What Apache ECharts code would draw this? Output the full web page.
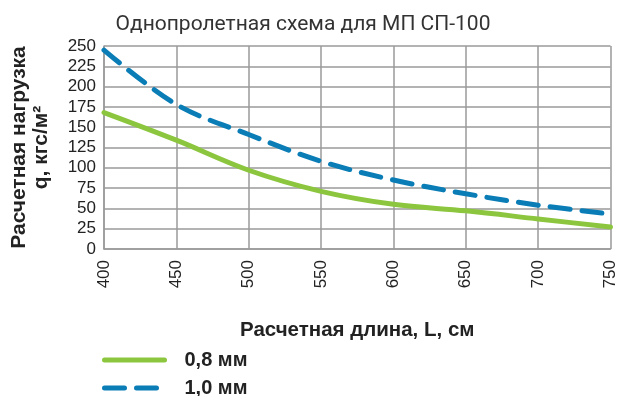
<!DOCTYPE html>
<html>
<head>
<meta charset="utf-8">
<script src="https://cdn.jsdelivr.net/npm/echarts@6/dist/echarts.min.js"></script>
<style>
  html, body { margin: 0; padding: 0; background: #fff; }
  #chart { width: 619px; height: 396px; }
</style>
</head>
<body>
<div id="chart"></div>
<script>
// длины пролета, см
const lengths = [400, 450, 500, 550, 600, 650, 700, 750];
// нагрузка, кгс/м2
const load08 = [168, 134, 97, 71, 55, 47, 37, 27];
const load10 = [245, 178, 141, 108, 85, 68, 54, 43];
const seriesNames = ['0,8 мм', '1,0 мм'];

const chart = echarts.init(document.getElementById('chart'));

const toPoints = (vals) => lengths.map((x, i) => [x, vals[i]]);

// одна легенда на строку
const legendRow = (name, top) => ({
  left: 102,
  top: top,
  padding: 0,
  itemWidth: 60,
  itemHeight: 14,
  itemStyle: { color: 'rgba(0,0,0,0)', borderWidth: 0, opacity: 0 },
  lineStyle: { width: 5, cap: 'round' },
  textStyle: { fontFamily: 'Liberation Sans', fontWeight: 'bold', fontSize: 20, color: '#222', padding: [0, 0, 0, 15] },
  data: [name]
});

const option = {
  animation: false,
  title: {
    text: 'Однопролетная схема для МП СП-100',
    left: 298,
    textAlign: 'center',
    top: 9,
    textStyle: { fontFamily: 'Roboto', fontWeight: 'normal', fontSize: 21, color: '#333' }
  },
  grid: { left: 99, right: 8, top: 46, bottom: 147 },
  legend: [legendRow(seriesNames[0], 350), legendRow(seriesNames[1], 378)],
  xAxis: {
    type: 'value',
    min: 400,
    max: 750,
    interval: 50,
    name: 'Расчетная длина, L, см',
    nameLocation: 'middle',
    nameGap: 71,
    nameTextStyle: { fontFamily: 'Liberation Sans', fontWeight: 'bold', fontSize: 20.5, color: '#222' },
    axisLine: { lineStyle: { color: '#9a9a9a', width: 1.5 } },
    axisTick: { show: false },
    splitLine: { show: true, lineStyle: { color: '#9a9a9a', width: 1.5 } },
    axisLabel: { rotate: 90, fontFamily: 'Liberation Sans', fontSize: 17, color: '#222', margin: 11 }
  },
  yAxis: {
    type: 'value',
    min: 0,
    max: 250,
    interval: 25,
    name: 'Расчетная нагрузка\nq, кгс/м²',
    nameLocation: 'middle',
    nameRotate: 90,
    nameGap: 52,
    nameTextStyle: { fontFamily: 'Liberation Sans', fontWeight: 'bold', fontSize: 21, color: '#222', lineHeight: 22, padding: [0, 0, 0, 0] },
    axisLine: { show: true, lineStyle: { color: '#9a9a9a', width: 1.5 } },
    axisTick: { show: false },
    splitLine: { lineStyle: { color: '#9a9a9a', width: 1.5 } },
    axisLabel: { fontFamily: 'Liberation Sans', fontSize: 17, color: '#222', margin: 8 }
  },
  series: [
    {
      name: seriesNames[0],
      type: 'line',
      smooth: 0.35,
      symbol: 'none',
      data: toPoints(load08),
      itemStyle: { color: '#8cc63f' },
      lineStyle: { color: '#8cc63f', width: 5, cap: 'round' }
    },
    {
      name: seriesNames[1],
      type: 'line',
      smooth: 0.35,
      symbol: 'none',
      data: toPoints(load10),
      itemStyle: { color: '#0a7db6' },
      lineStyle: { color: '#0a7db6', width: 5, type: [20, 12], cap: 'round' }
    }
  ]
};

option && chart.setOption(option);
</script>
</body>
</html>
